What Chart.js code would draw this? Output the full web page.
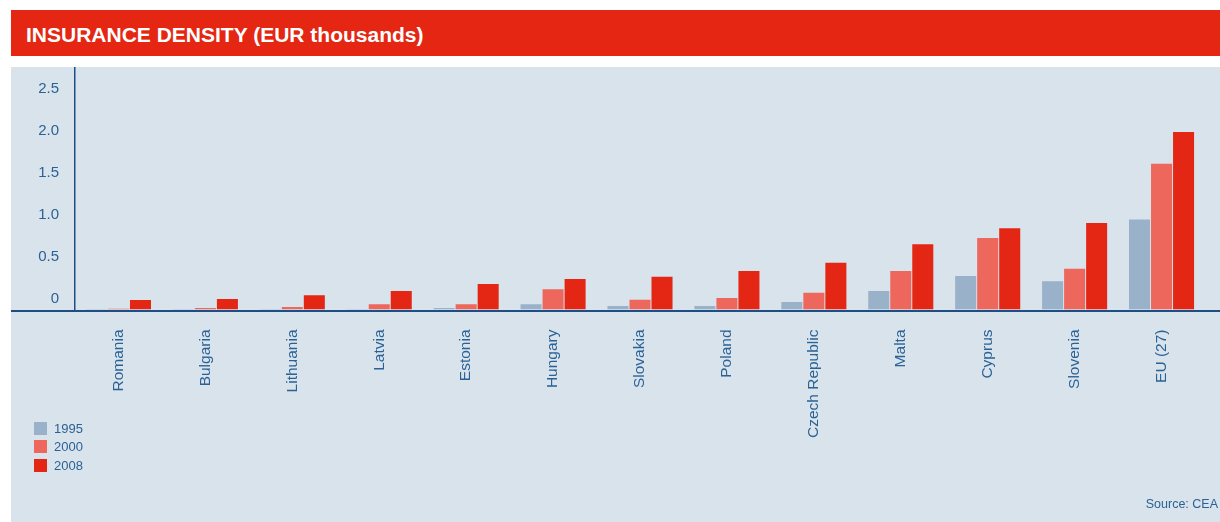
<!DOCTYPE html>
<html>
<head>
<meta charset="utf-8">
<title>Insurance density</title>
<script src="https://cdn.jsdelivr.net/npm/chart.js@4"></script>
<style>
  html, body { margin: 0; padding: 0; background: #fff; }
  body { width: 1220px; height: 522px; position: relative; overflow: hidden; font-family: "Liberation Sans", Arial, sans-serif; }
  #header { position: absolute; left: 11px; top: 10px; width: 1209px; height: 46px; background: #E42612; }
  #header h1 { margin: 0; position: absolute; left: 15px; top: 14px; font-size: 21px; line-height: 21px; font-weight: bold; color: #fff; }
  #panel { position: absolute; left: 11px; top: 67px; width: 1209px; height: 455px; background: #D9E3EC; }
  #chart-wrap { position: absolute; left: 0; top: 0; width: 1209px; height: 455px; }
  #legend { position: absolute; left: 23px; top: 352px; }
  #legend div { height: 18.5px; display: flex; align-items: center; font-size: 13px; color: #2B6296; }
  #legend span.sw { display: inline-block; width: 13px; height: 13px; margin-right: 7px; }
  #source { position: absolute; right: 2px; top: 430px; font-size: 12.5px; color: #2B6296; }
</style>
</head>
<body>
<div id="header"><h1>INSURANCE DENSITY (EUR thousands)</h1></div>
<div id="panel">
  <div id="chart-wrap"><canvas id="densityChart"></canvas></div>
  <div id="legend"></div>
  <div id="source">Source: CEA</div>
</div>
<script>
// insurance density per country, EUR thousands
const categories = ['Romania','Bulgaria','Lithuania','Latvia','Estonia','Hungary','Slovakia',
  'Poland','Czech Republic','Malta','Cyprus','Slovenia','EU (27)'];
const seriesNames = ['1995','2000','2008'];
const d1995 = [0.005, 0.005, 0.005, 0.005, 0.017, 0.06, 0.04, 0.04, 0.085, 0.21, 0.38, 0.32, 1.02];
const d2000 = [0.008, 0.017, 0.028, 0.06, 0.06, 0.23, 0.11, 0.13, 0.19, 0.435, 0.81, 0.46, 1.65];
const d2008 = [0.107, 0.12, 0.16, 0.21, 0.29, 0.345, 0.37, 0.435, 0.53, 0.74, 0.92, 0.98, 2.01];
const yTicks = [0, 0.5, 1, 1.5, 2, 2.5];
const yTickLabels = ['0','0.5','1.0','1.5','2.0','2.5'];

const colors = ['#9AB2C9', '#EE675C', '#E42614'];
const textColor = '#2B6296';
const axisColor = '#1D4F85';

Chart.defaults.font.family = '"Liberation Sans", Arial, sans-serif';

// baseline runs across the whole panel, under the tick labels too
const baselinePlugin = {
  id: 'baseline',
  afterDatasetsDraw(chart) {
    const ctx = chart.ctx;
    const y = Math.round(chart.scales.y.getPixelForValue(0)) + 1;
    ctx.save();
    ctx.strokeStyle = axisColor;
    ctx.lineWidth = 2;
    ctx.beginPath();
    ctx.moveTo(0, y);
    ctx.lineTo(chart.width, y);
    ctx.stroke();
    ctx.restore();
  }
};

const data = [d1995, d2000, d2008];
const datasets = seriesNames.map((name, i) => ({
  label: name,
  data: data[i],
  backgroundColor: colors[i],
  borderWidth: 0,
  categoryPercentage: 0.76,
  barPercentage: 0.955,
  yAxisID: 'y'
}));

new Chart(document.getElementById('densityChart').getContext('2d'), {
  type: 'bar',
  data: { labels: categories, datasets },
  options: {
    responsive: true,
    maintainAspectRatio: false,
    animation: false,
    layout: { padding: { left: 0, right: 15, top: 0, bottom: 0 } },
    plugins: { legend: { display: false }, tooltip: { enabled: false } },
    scales: {
      x: {
        grid: { display: false, drawTicks: false },
        border: { display: false },
        ticks: { color: textColor, font: { size: 15.5 }, minRotation: 90, maxRotation: 90, autoSkip: false, padding: 20 },
        afterFit(s) { s.height = 212.5; s.paddingLeft = 0; s.paddingRight = 0; }
      },
      // data scale, hidden
      y: { display: false, min: 0, max: 2.745 },
      // label scale — the printed tick labels sit a bit above the data values
      yl: {
        position: 'left',
        min: -0.125,
        max: 2.762,
        grid: { display: false, drawTicks: false },
        border: { display: true, color: axisColor, width: 1.5 },
        afterBuildTicks(s) { s.ticks = yTicks.map(v => ({ value: v })); },
        ticks: {
          color: textColor, font: { size: 15 }, padding: 16,
          callback: v => yTickLabels[yTicks.indexOf(v)]
        },
        afterFit(s) { s.width = 64; s.paddingTop = 0; s.paddingBottom = 0; }
      }
    }
  },
  plugins: [baselinePlugin]
});

// legend, stacked like the original
const legendEl = document.getElementById('legend');
seriesNames.forEach((name, i) => {
  const row = document.createElement('div');
  row.innerHTML = `<span class="sw" style="background:${colors[i]}"></span>${name}`;
  legendEl.appendChild(row);
});
</script>
</body>
</html>
